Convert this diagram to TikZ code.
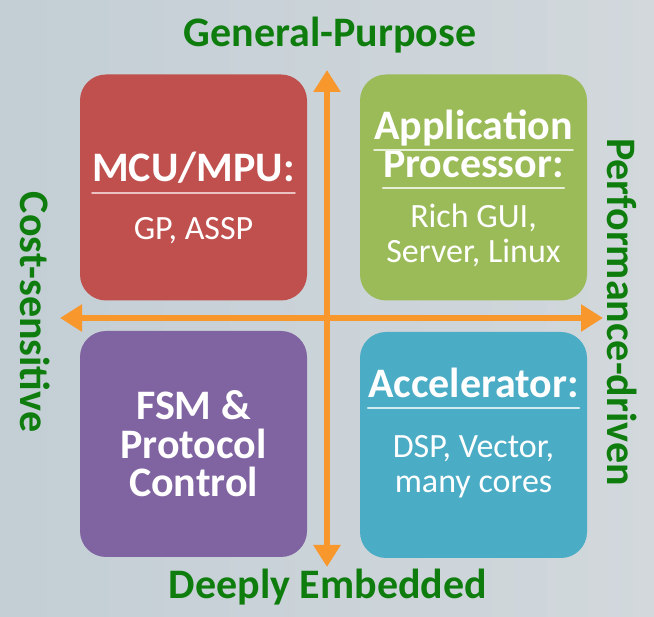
\documentclass[tikz,border=0pt]{standalone}
\usepackage{fontspec}
\setmainfont{Carlito}
\usetikzlibrary{arrows.meta}

\definecolor{bgleft}{HTML}{C3CED5}
\definecolor{bgright}{HTML}{D2D8DC}
\definecolor{mcured}{HTML}{C0504D}
\definecolor{appgreen}{HTML}{9BBB59}
\definecolor{fsmpurple}{HTML}{8064A2}
\definecolor{accblue}{HTML}{4BACC6}
\definecolor{axisorange}{HTML}{F8972C}
\definecolor{labelgreen}{HTML}{0E7D0E}

\begin{document}
\begin{tikzpicture}[x=1pt, y=-1pt, line join=round, line cap=round,
	>={Triangle[length=22pt, width=26pt]},
	box/.style={rounded corners=26pt, minimum width=227pt, minimum height=226pt, inner sep=0pt},
	ttl/.style={text=white, font=\fontsize{42}{38.5}\selectfont\bfseries, inner sep=0pt, anchor=base, align=center},
	txt/.style={text=white, font=\fontsize{34}{35}\selectfont, inner sep=0pt, anchor=base, align=center},
	lbl/.style={text=labelgreen, font=\fontsize{42}{42}\selectfont\bfseries, inner sep=0pt},
	axis/.style={draw=axisorange, line width=5.5pt, line cap=butt, <->}]
	% Hintergrund
	\useasboundingbox (0,0) rectangle (654,617);
	\fill[left color=bgleft, right color=bgright] (0,0) rectangle (654,617);

	% Quadranten
	\node[box, fill=mcured] (mcu) at (193.5,187.5) {};
	\node[box, fill=appgreen] (app) at (473.5,187.5) {};
	\node[box, fill=fsmpurple] (fsm) at (193.5,444) {};
	\node[box, fill=accblue] (acc) at (473.5,445) {};

	% Titel mit Unterstreichung
	\node[ttl] (mcutitle) at (193.5,182) {MCU/MPU:};
	\node[ttl] (apptitle1) at (473.5,140) {Application};
	\node[ttl] (apptitle2) at (473.5,178) {Processor:};
	\node[ttl] (acctitle) at (473.5,398) {Accelerator:};
	\draw[white!65!mcured, line width=2pt] ([yshift=-11pt]mcutitle.base west) -- ([yshift=-11pt]mcutitle.base east);
	\foreach \t in {apptitle1, apptitle2} {
		\draw[white!75!appgreen, line width=2pt] ([yshift=-10pt]\t.base west) -- ([yshift=-10pt]\t.base east);
	}
	\draw[white!75!accblue, line width=2pt] ([yshift=-10pt]acctitle.base west) -- ([yshift=-10pt]acctitle.base east);
	\node[ttl] (fsmtitle) at (193.5,497) {FSM \&\\Protocol\\Control};

	% Beschreibungen (base = letzte Zeile)
	\node[txt] (mcutext) at (193.5,240) {GP, ASSP};
	\node[txt] (apptext) at (473.5,263) {Rich GUI,\\Server, Linux};
	\node[txt] (acctext) at (473.5,493) {DSP, Vector,\\many cores};

	% Achsen
	\coordinate (top) at (327,70);
	\coordinate (bottom) at (327,567);
	\coordinate (left) at (60,318);
	\coordinate (right) at (603,318);
	\draw[axis] (bottom) -- (top);
	\draw[axis] (left) -- (right);

	% Achsenbeschriftung
	\node[lbl, anchor=base] (gp) at (330,47) {General-Purpose};
	\node[lbl, anchor=base] (de) at (328,599) {Deeply Embedded};
	\node[lbl, rotate=-90] (cs) at (35,312) {Cost-sensitive};
	\node[lbl, rotate=-90] (pd) at (622,312) {Performance-driven};
\end{tikzpicture}
\end{document}
